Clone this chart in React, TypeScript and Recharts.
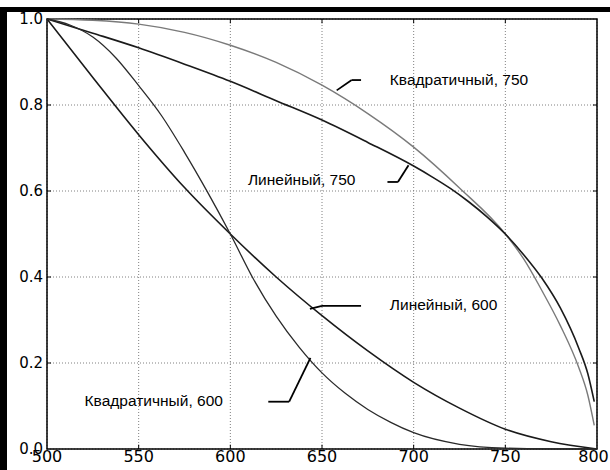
import React from 'react';
import { LineChart, Line, XAxis, YAxis, CartesianGrid, ReferenceLine, ReferenceArea, ReferenceDot } from 'recharts';

// Линейный, 600
const l600X = [500, 525, 550, 575, 600, 625, 650, 675, 700, 725, 750, 775, 800];
const l600Y = [1.0, 0.864, 0.731, 0.608, 0.5, 0.4, 0.31, 0.228, 0.155, 0.095, 0.046, 0.017, 0.0];

// Квадратичный, 600
const q600X = [500, 512.5, 525, 537.5, 550, 562.5, 575, 587.5, 600, 612.5, 625, 637.5, 650, 662.5, 675, 687.5, 700, 725, 750, 775, 800];
const q600Y = [1.0, 0.986, 0.958, 0.91, 0.845, 0.775, 0.69, 0.598, 0.5, 0.396, 0.309, 0.237, 0.177, 0.13, 0.092, 0.062, 0.038, 0.011, 0.002, 0.0003, 0.0];

// Линейный, 750
const l750X = [500, 525, 550, 575, 600, 625, 650, 675, 700, 710, 720, 730, 740, 750, 760, 770, 780, 790, 795, 798.5];
const l750Y = [1.0, 0.967, 0.933, 0.895, 0.855, 0.81, 0.765, 0.713, 0.658, 0.633, 0.606, 0.575, 0.54, 0.5, 0.452, 0.397, 0.328, 0.235, 0.175, 0.11];

// Квадратичный, 750
const q750X = [500, 525, 550, 575, 600, 625, 650, 675, 700, 725, 750, 760, 770, 780, 790, 795, 798.5];
const q750Y = [1.0, 0.997, 0.988, 0.969, 0.939, 0.899, 0.846, 0.78, 0.702, 0.607, 0.5, 0.442, 0.368, 0.287, 0.19, 0.125, 0.055];

const xTicks = [500, 550, 600, 650, 700, 750, 800];
const yTicks = [0.0, 0.2, 0.4, 0.6, 0.8, 1.0];

const labels = [
  { text: 'Квадратичный, 750', x: 687, y: 0.859 },
  { text: 'Линейный, 750', x: 609.6, y: 0.627 },
  { text: 'Линейный, 600', x: 687, y: 0.336 },
  { text: 'Квадратичный, 600', x: 520.5, y: 0.113 },
];

const arrows = [
  [{ x: 671.3, y: 0.858 }, { x: 666.2, y: 0.858 }, { x: 658.0, y: 0.834 }],
  [{ x: 685.7, y: 0.621 }, { x: 691.4, y: 0.621 }, { x: 697.2, y: 0.66 }],
  [{ x: 671.3, y: 0.333 }, { x: 650.0, y: 0.333 }, { x: 643.4, y: 0.326 }],
  [{ x: 620.7, y: 0.11 }, { x: 632.1, y: 0.11 }, { x: 643.7, y: 0.212 }],
];

const toRows = (xs: number[], ys: number[]) => xs.map((x, i) => ({ x, y: ys[i] }));
const l600 = toRows(l600X, l600Y);
const q600 = toRows(q600X, q600Y);
const l750 = toRows(l750X, l750Y);
const q750 = toRows(q750X, q750Y);

const innerX = xTicks.slice(1, -1);
const innerY = yTicks.slice(1, -1);

const XTick = (props: any) => {
  const { x, y, payload } = props;
  const cx = Math.min(x, 610 - 16.5);
  return (
    <text x={cx} y={y} dy="0.71em" textAnchor="middle" fontFamily="DejaVu Sans" fontSize={16} fill="#000">
      {payload.value}
    </text>
  );
};

export default function App() {
  return (
    <div style={{ position: 'absolute', left: 0, top: 0, width: 610, height: 470, background: '#fff' }}>
      <LineChart width={610} height={470} margin={{ top: 19, right: 13, left: 7, bottom: 0 }}>
        <CartesianGrid stroke="#808080" strokeDasharray="1 2" strokeWidth={1} />
        <XAxis
          type="number"
          dataKey="x"
          domain={[500, 800]}
          ticks={xTicks}
          interval={0}
          axisLine={false}
          tickLine={false}
          tickSize={0}
          tickMargin={2}
          height={21}
          tick={<XTick />}
          allowDataOverflow
        />
        <YAxis
          type="number"
          domain={[0, 1]}
          ticks={yTicks}
          interval={0}
          axisLine={false}
          tickLine={false}
          tickSize={0}
          tickMargin={4}
          width={40}
          tickFormatter={(v: number) => v.toFixed(1)}
          tick={{ fontFamily: 'DejaVu Sans', fill: '#000', fontSize: 15 }}
        />
        {innerX.map((t) => (
          <ReferenceLine key={'xb' + t} segment={[{ x: t, y: 0 }, { x: t, y: 0.01 }]} stroke="#000" strokeWidth={1} />
        ))}
        {innerX.map((t) => (
          <ReferenceLine key={'xt' + t} segment={[{ x: t, y: 1 }, { x: t, y: 0.99 }]} stroke="#000" strokeWidth={1} />
        ))}
        {innerY.map((t) => (
          <ReferenceLine key={'yl' + t} segment={[{ x: 500, y: t }, { x: 502.2, y: t }]} stroke="#000" strokeWidth={1} />
        ))}
        {innerY.map((t) => (
          <ReferenceLine key={'yr' + t} segment={[{ x: 800, y: t }, { x: 797.8, y: t }]} stroke="#000" strokeWidth={1} />
        ))}
        <Line data={q750} type="monotone" dataKey="y" stroke="#7a7a7a" strokeWidth={1.4} dot={false} isAnimationActive={false} />
        <Line data={l750} type="monotone" dataKey="y" stroke="#1a1a1a" strokeWidth={1.6} dot={false} isAnimationActive={false} />
        <Line data={l600} type="monotone" dataKey="y" stroke="#1a1a1a" strokeWidth={1.6} dot={false} isAnimationActive={false} />
        <Line data={q600} type="monotone" dataKey="y" stroke="#2a2a2a" strokeWidth={1.3} dot={false} isAnimationActive={false} />
        {arrows.map((pts, i) => (
          <ReferenceLine key={'a1' + i} segment={[pts[0], pts[1]]} stroke="#000" strokeWidth={1.8} />
        ))}
        {arrows.map((pts, i) => (
          <ReferenceLine key={'a2' + i} segment={[pts[1], pts[2]]} stroke="#000" strokeWidth={1.8} />
        ))}
        {labels.map((l, i) => (
          <ReferenceDot
            key={'l' + i}
            x={l.x}
            y={l.y}
            r={0}
            shape={(p: any) => (
              <text
                x={p.cx}
                y={p.cy}
                dy="0.35em"
                textAnchor="start"
                fontFamily="Liberation Sans, Arial, sans-serif"
                fontSize={15.5}
                fill="#000"
              >
                {l.text}
              </text>
            )}
          />
        ))}
        <ReferenceArea x1={500} x2={800} y1={0} y2={1} fill="none" fillOpacity={0} stroke="#000" strokeWidth={1.5} />
      </LineChart>
      <div style={{ position: 'absolute', left: 0, top: 7, width: 610, height: 5, background: '#000' }} />
      <div style={{ position: 'absolute', left: 0, top: 7, width: 7, height: 463, background: '#000' }} />
    </div>
  );
}
